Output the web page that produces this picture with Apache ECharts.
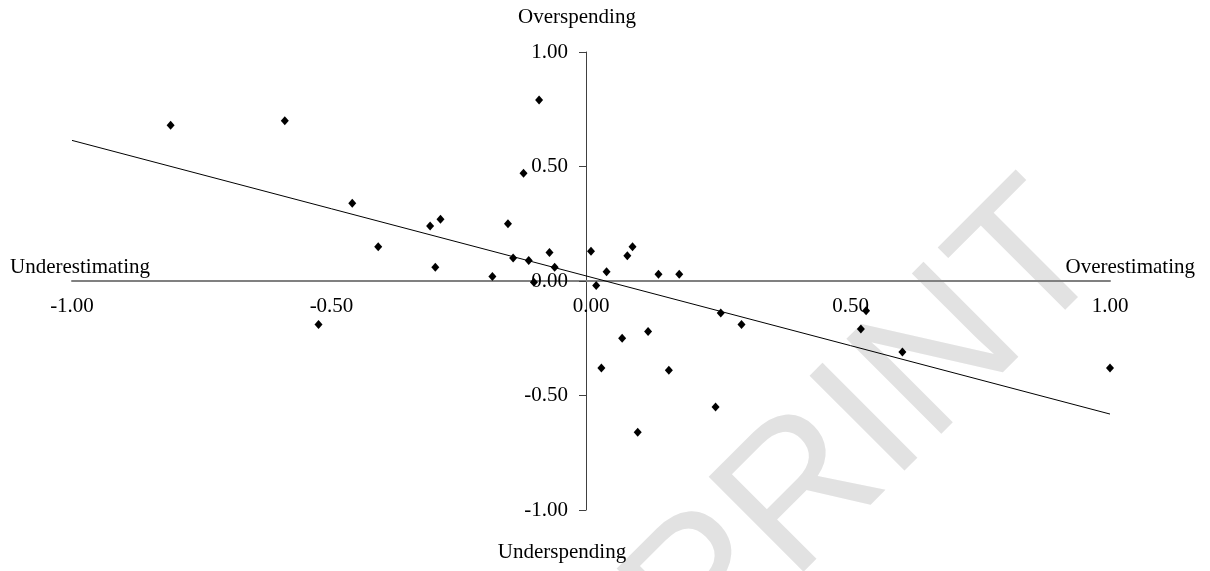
<!DOCTYPE html>
<html>
<head>
<meta charset="utf-8">
<script src="https://cdn.jsdelivr.net/npm/echarts@6/dist/echarts.min.js"></script>
<style>
html,body{margin:0;padding:0;background:#fff;}
#chart{width:1210px;height:571px;}
</style>
</head>
<body>
<div id="chart"></div>
<script>
// estimation error (x) vs spending deviation (y)
var xValues = [-0.81, -0.59, -0.46, -0.41, -0.525, -0.31, -0.29, -0.30, -0.19, -0.16, -0.15, -0.13, -0.12, -0.11, -0.10, -0.08, -0.07,
               0.00, 0.01, 0.03, 0.07, 0.08, 0.13, 0.17, 0.02, 0.06, 0.11, 0.15, 0.09, 0.24, 0.25, 0.29, 0.52, 0.53, 0.60, 1.00];
var yValues = [0.68, 0.70, 0.34, 0.15, -0.19, 0.24, 0.27, 0.06, 0.02, 0.25, 0.10, 0.47, 0.09, -0.005, 0.79, 0.125, 0.06,
               0.13, -0.02, 0.04, 0.11, 0.15, 0.03, 0.03, -0.38, -0.25, -0.22, -0.39, -0.66, -0.55, -0.14, -0.19, -0.21, -0.13, -0.31, -0.38];
var trendX = [-1, 1];
var trendY = [0.614, -0.581];
var tickLabels = ['-1.00', '-0.50', '0.00', '0.50', '1.00'];
var axisTitles = ['Underestimating', 'Overestimating', 'Overspending', 'Underspending'];

var points = xValues.map(function (x, i) { return [x, yValues[i]]; });
var trend = trendX.map(function (x, i) { return [x, trendY[i]]; });
var serif = 'Liberation Serif';
function fmt(v) { return v.toFixed(2); }
function tickFmt(v) { return tickLabels[Math.round((v + 1) / 0.5)] || fmt(v); }

var chart = echarts.init(document.getElementById('chart'));
chart.setOption({
  animation: false,
  backgroundColor: '#ffffff',
  grid: [
    { left: 72, right: 100, top: 52, bottom: 61 },
    { left: 586, width: 10, top: 52, bottom: 61 }
  ],
  xAxis: [
    {
      type: 'value', gridIndex: 0, min: -1, max: 1, interval: 0.5, position: 'bottom', offset: -229,
      axisLine: { onZero: false, lineStyle: { color: '#808080', width: 2 } },
      axisTick: { show: false },
      splitLine: { show: false },
      axisLabel: { margin: 15, color: '#000', fontFamily: serif, fontSize: 21, formatter: tickFmt }
    },
    { type: 'value', gridIndex: 1, min: 0, max: 1, show: false }
  ],
  yAxis: [
    { type: 'value', gridIndex: 0, min: -1, max: 1, show: false },
    {
      type: 'value', gridIndex: 1, min: -1, max: 1, interval: 0.5, position: 'left',
      axisLine: { onZero: false, lineStyle: { color: '#404040', width: 1 } },
      axisTick: { show: true, length: 7, lineStyle: { color: '#404040' } },
      splitLine: { show: false },
      axisLabel: { margin: 18, color: '#000', fontFamily: serif, fontSize: 21, formatter: tickFmt }
    }
  ],
  graphic: [
    { type: 'text', z: 0, x: 869, y: 430, rotation: 45 * Math.PI / 180,
      style: { text: 'PRINT', fontSize: 195, fontFamily: 'Liberation Sans', fill: '#e2e2e2',
               textAlign: 'center', textVerticalAlign: 'middle' } },
    { type: 'text', z: 10, left: 10, top: 257,
      style: { text: axisTitles[0], fontSize: 21, fontFamily: serif, fill: '#000' } },
    { type: 'text', z: 10, right: 15, top: 257,
      style: { text: axisTitles[1], fontSize: 21, fontFamily: serif, fill: '#000' } },
    { type: 'text', z: 10, x: 577, y: 17,
      style: { text: axisTitles[2], fontSize: 21, fontFamily: serif, fill: '#000', textAlign: 'center', textVerticalAlign: 'middle' } },
    { type: 'text', z: 10, x: 562, y: 552,
      style: { text: axisTitles[3], fontSize: 21, fontFamily: serif, fill: '#000', textAlign: 'center', textVerticalAlign: 'middle' } }
  ],
  series: [
    {
      type: 'line', xAxisIndex: 0, yAxisIndex: 0, data: trend, symbol: 'none',
      lineStyle: { color: '#000', width: 1 }, z: 3, silent: true
    },
    {
      type: 'scatter', xAxisIndex: 0, yAxisIndex: 0, data: points,
      symbol: 'diamond', symbolSize: [8, 9], itemStyle: { color: '#000', opacity: 1 }, z: 4
    }
  ]
});
</script>
</body>
</html>
